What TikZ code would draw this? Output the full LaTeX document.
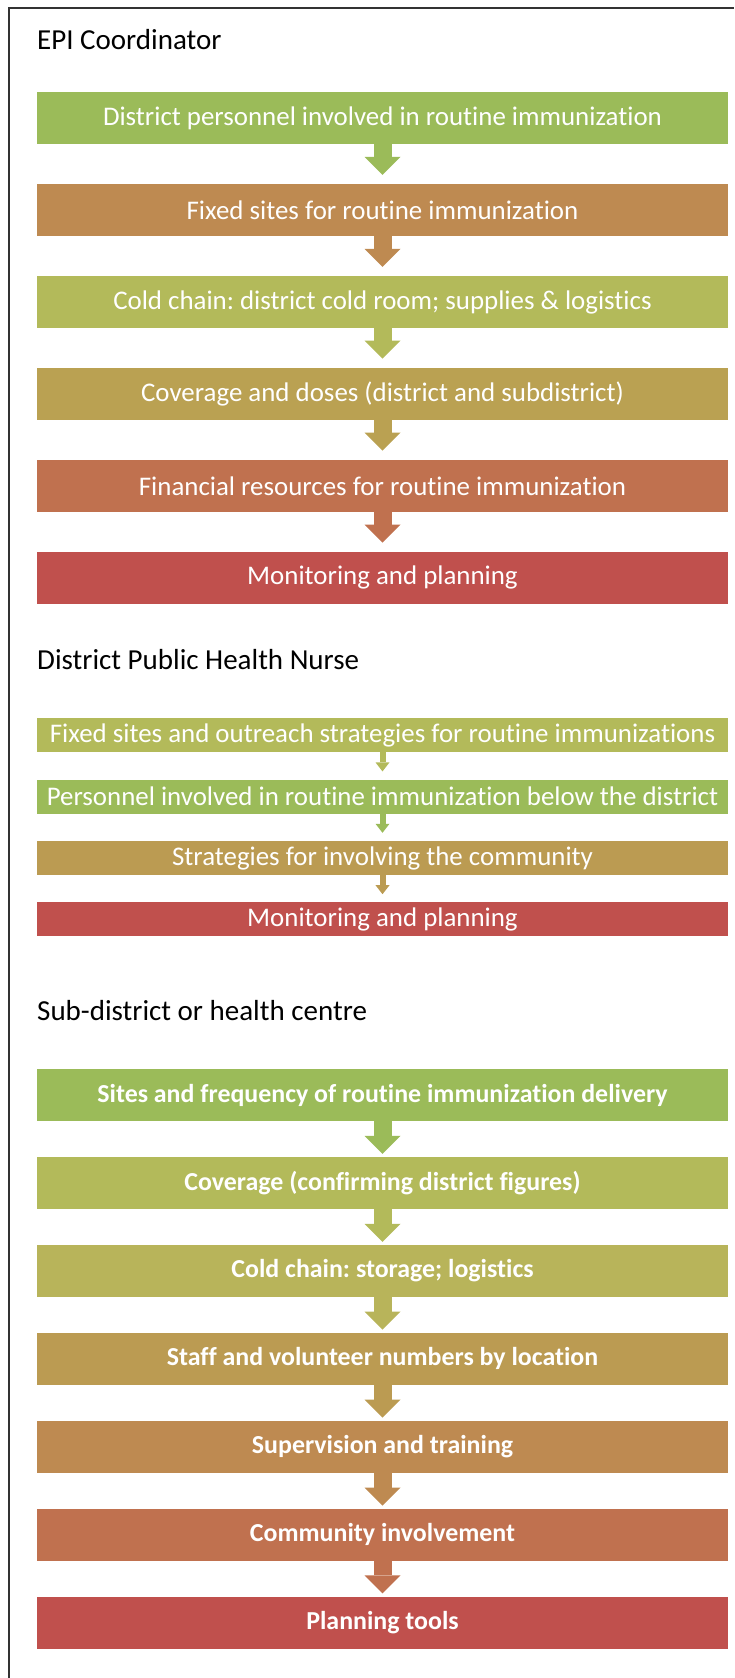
\documentclass[tikz,border=0pt]{standalone}
\usepackage{fontspec}
\setmainfont{Carlito}[Ligatures=NoCommon]
\usetikzlibrary{arrows.meta, positioning}
\definecolor{leafgreen}{HTML}{9BBB59}
\definecolor{olivelime}{HTML}{B3BA5A}
\definecolor{khaki}{HTML}{B8B45A}
\definecolor{mustard}{HTML}{BAA152}
\definecolor{ochre}{HTML}{BB9B52}
\definecolor{tan}{HTML}{BE8A51}
\definecolor{rust}{HTML}{C0714F}
\definecolor{brick}{HTML}{C0504D}
\frenchspacing

\begin{document}
\begin{tikzpicture}[x=1pt, y=-1pt,
    stage/.style={minimum width=691pt, minimum height=52pt, inner sep=0pt, text=white, font=\fontsize{26.9}{30}\selectfont},
    nurse/.style={stage, minimum height=34pt},
    centre/.style={stage, font=\fontsize{25.9}{30}\selectfont\bfseries},
    heading/.style={anchor=base west, inner sep=0pt, font=\fontsize{29}{34}\selectfont},
    flow/.style={line width=18pt, -{Triangle[width=36pt, length=18pt, line width=0pt]}, shorten >=9pt},
    thinflow/.style={line width=6pt, -{Triangle[width=14pt, length=9pt, line width=0pt]}, shorten >=8pt},
    node distance=39.5pt
]
\useasboundingbox (0,0) rectangle (734,1678);
\draw[line width=2pt, black!80] (8.5,1678) -- (8.5,8.5) -- (734,8.5);

% EPI coordinator
\node[heading] (epi) at (37,50) {EPI Coordinator};
\node[stage, fill=leafgreen, anchor=north] (e1) at (382.5,92) {District personnel involved in routine immunization};
\node[stage, fill=tan, below=of e1] (e2) {Fixed sites for routine immunization};
\node[stage, fill=olivelime, below=of e2] (e3) {Cold chain: district cold room; supplies \& logistics};
\node[stage, fill=mustard, below=of e3] (e4) {Coverage and doses (district and subdistrict)};
\node[stage, fill=rust, below=of e4] (e5) {Financial resources for routine immunization};
\node[stage, fill=brick, below=of e5] (e6) {Monitoring and planning};

\draw[flow, leafgreen] (e1.south) -- (e2.north);
\draw[flow, tan] (e2.south) -- (e3.north);
\draw[flow, olivelime] (e3.south) -- (e4.north);
\draw[flow, mustard] (e4.south) -- (e5.north);
\draw[flow, rust] (e5.south) -- (e6.north);

% district public health nurse
\node[heading] (dph) at (37,669) {District Public Health Nurse};
\node[nurse, fill=olivelime, anchor=north] (n1) at (382.5,718) {Fixed sites and outreach strategies for routine immunizations};
\node[nurse, fill=leafgreen, below=27pt of n1] (n2) {Personnel involved in routine immunization below the district};
\node[nurse, fill=ochre, below=27pt of n2] (n3) {Strategies for involving the community};
\node[nurse, fill=brick, below=27pt of n3] (n4) {Monitoring and planning};

\draw[thinflow, olivelime] (n1.south) -- (n2.north);
\draw[thinflow, leafgreen] (n2.south) -- (n3.north);
\draw[thinflow, ochre] (n3.south) -- (n4.north);

% sub-district
\node[heading] (sub) at (37,1020) {Sub-district or health centre};
\node[centre, fill=leafgreen, anchor=north] (s1) at (382.5,1069) {Sites and frequency of routine immunization delivery};
\node[centre, fill=olivelime, below=35.5pt of s1] (s2) {Coverage (confirming district figures)};
\node[centre, fill=khaki, below=35.5pt of s2] (s3) {Cold chain: storage; logistics};
\node[centre, fill=ochre, below=35.5pt of s3] (s4) {Staff and volunteer numbers by location};
\node[centre, fill=tan, below=35.5pt of s4] (s5) {Supervision and training};
\node[centre, fill=rust, below=35.5pt of s5] (s6) {Community involvement};
\node[centre, fill=brick, below=35.5pt of s6] (s7) {Planning tools};

\draw[flow, leafgreen, shorten >=3pt] (s1.south) -- (s2.north);
\draw[flow, olivelime, shorten >=3pt] (s2.south) -- (s3.north);
\draw[flow, khaki, shorten >=3pt] (s3.south) -- (s4.north);
\draw[flow, ochre, shorten >=3pt] (s4.south) -- (s5.north);
\draw[flow, tan, shorten >=3pt] (s5.south) -- (s6.north);
\draw[flow, rust, shorten >=3pt] (s6.south) -- (s7.north);
\end{tikzpicture}
\end{document}
